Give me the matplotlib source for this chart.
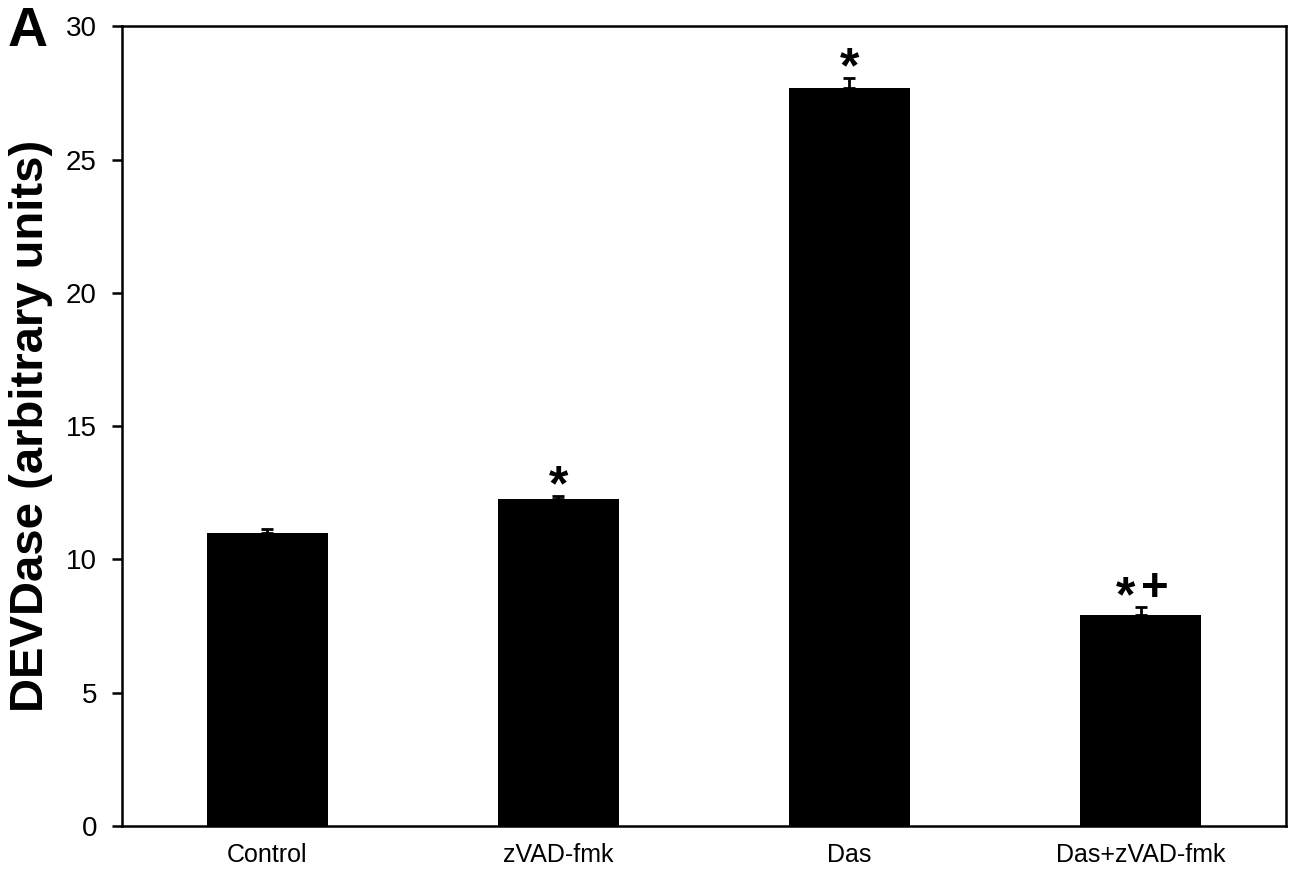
import matplotlib
matplotlib.use("Agg")
import matplotlib.pyplot as plt
import numpy as np

groups = ["Control", "zVAD-fmk", "Das", "Das+zVAD-fmk"]
means = [11.0, 12.27, 27.69, 7.92]
errors = [0.14, 0.12, 0.38, 0.30]
marks = ["", "*", "*", "*+"]

plt.rcParams["font.family"] = ["Liberation Sans", "DejaVu Sans"]

fig = plt.figure(figsize=(12.99, 8.75), dpi=100)
ax = fig.add_axes([0.0939, 0.056, 0.8961, 0.914])

x = np.arange(len(groups))
ax.bar(x, means, width=0.415, color="black", zorder=2)
ax.errorbar(x, means, yerr=[np.zeros(len(errors)), errors], fmt="none",
            ecolor="black", elinewidth=2, capsize=4.5, capthick=2, zorder=3)

# significance symbols: '*' and '+' sized/raised separately so they line up
sym_style = {"*": dict(fontsize=36, dy=-3), "+": dict(fontsize=34, dy=4)}
for xi, m, e, s in zip(x, means, errors, marks):
    n = len(s)
    for k, ch in enumerate(s):
        dx = (k - (n - 1) / 2) * 21
        st = sym_style[ch]
        ax.annotate(ch, (xi, m + e), xytext=(dx, st["dy"]), textcoords="offset points",
                    ha="center", va="baseline", fontsize=st["fontsize"], fontweight="bold")

ax.set_xlim(-0.5, 3.5)
ax.set_ylim(0, 30)
ax.set_yticks(np.arange(0, 31, 5))
ax.set_xticks(x)
ax.set_xticklabels(groups, fontsize=18)
ax.tick_params(axis="x", length=0, pad=12)
ax.tick_params(axis="y", direction="out", length=7, width=1.8, labelsize=20, pad=11)
for sp in ax.spines.values():
    sp.set_linewidth(1.8)

ax.set_ylabel("DEVDase (arbitrary units)", fontsize=34, fontweight="bold", labelpad=9)
fig.text(0.006, 0.993, "A", fontsize=40, fontweight="bold", ha="left", va="top")

fig.savefig("out.png", dpi=100)
